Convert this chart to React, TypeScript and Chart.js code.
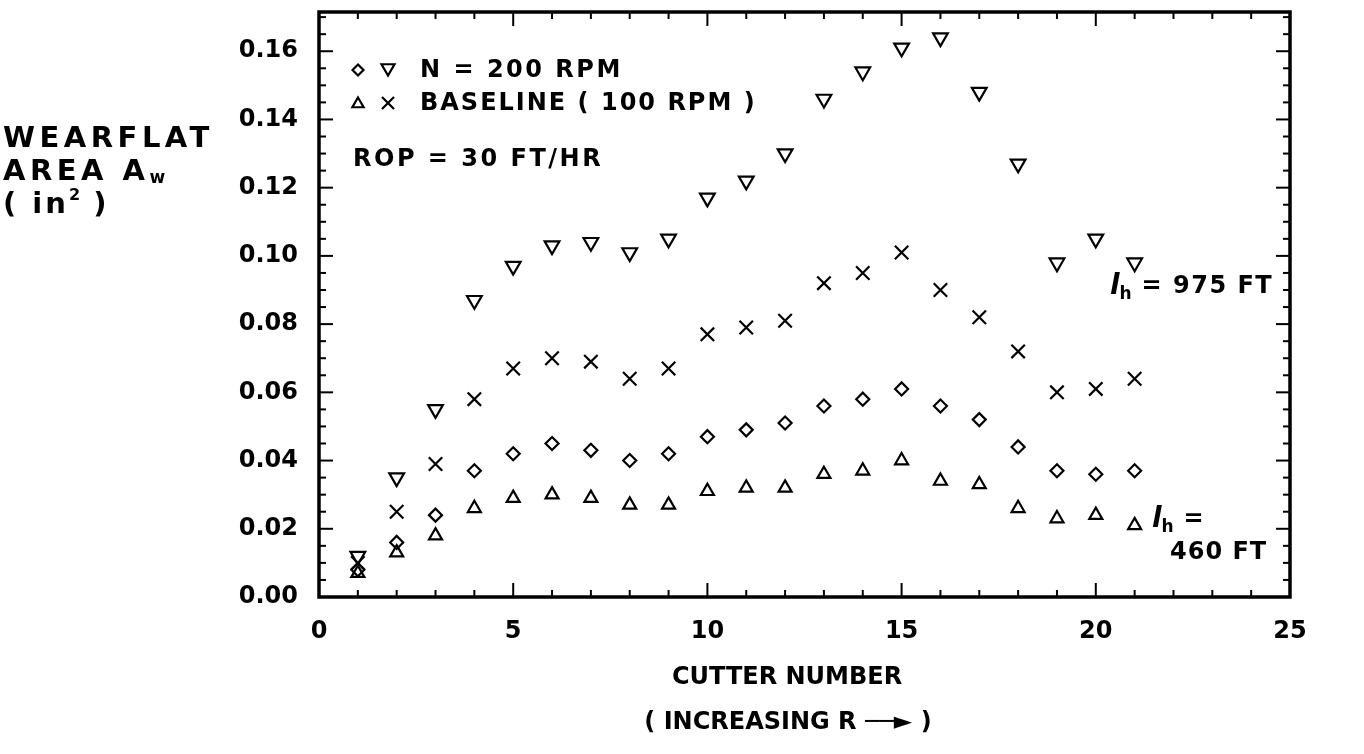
import React, { useEffect, useRef } from 'react';
import { Chart, registerables } from 'chart.js';
import { drawPoint } from 'chart.js/helpers';

Chart.register(...registerables);

// ---- data ----
const cutters = [1, 2, 3, 4, 5, 6, 7, 8, 9, 10, 11, 12, 13, 14, 15, 16, 17, 18, 19, 20, 21];
const diamond200 = [0.008, 0.016, 0.024, 0.037, 0.042, 0.045, 0.043, 0.040, 0.042, 0.047, 0.049, 0.051, 0.056, 0.058, 0.061, 0.056, 0.052, 0.044, 0.037, 0.036, 0.037];
const triDown200 = [0.012, 0.035, 0.055, 0.087, 0.097, 0.103, 0.104, 0.101, 0.105, 0.117, 0.122, 0.130, 0.146, 0.154, 0.161, 0.164, 0.148, 0.127, 0.098, 0.105, 0.098];
const triUp100 = [0.007, 0.013, 0.018, 0.026, 0.029, 0.030, 0.029, 0.027, 0.027, 0.031, 0.032, 0.032, 0.036, 0.037, 0.040, 0.034, 0.033, 0.026, 0.023, 0.024, 0.021];
const cross100 = [0.010, 0.025, 0.039, 0.058, 0.067, 0.070, 0.069, 0.064, 0.067, 0.077, 0.079, 0.081, 0.092, 0.095, 0.101, 0.090, 0.082, 0.072, 0.060, 0.061, 0.064];
const xTickValues = [0, 5, 10, 15, 20, 25];
const yTickValues = [0, 0.02, 0.04, 0.06, 0.08, 0.1, 0.12, 0.14, 0.16];
const X_MIN = 0;
const X_MAX = 25;
const Y_MIN = 0;
const Y_MAX = 0.1715;

const FONT = '"DejaVu Sans", sans-serif';
const BLACK = '#000';

function txt(ctx: CanvasRenderingContext2D, s: string, x: number, y: number, size: number, align: CanvasTextAlign = 'left', ls = 0, italic = false, bold = true): number {
  ctx.font = `${italic ? 'italic ' : ''}${bold ? 'bold ' : ''}${size}px ${FONT}`;
  (ctx as any).letterSpacing = `${ls}px`;
  ctx.textAlign = align;
  ctx.textBaseline = 'middle';
  ctx.fillStyle = BLACK;
  ctx.fillText(s, x, y);
  return ctx.measureText(s).width;
}

function marker(ctx: CanvasRenderingContext2D, style: any, radius: number, rotation: number, x: number, y: number) {
  ctx.save();
  ctx.strokeStyle = BLACK;
  ctx.fillStyle = 'rgba(0,0,0,0)';
  ctx.lineWidth = 2.2;
  drawPoint(ctx, { pointStyle: style, radius, rotation, borderWidth: 2.2 } as any, x, y);
  ctx.restore();
}

const framePlugin = {
  id: 'frameAndText',
  beforeDraw(chart: any) {
    const ctx = chart.ctx;
    (ctx as any).letterSpacing = '0px';
    ctx.save();
    ctx.fillStyle = '#fff';
    ctx.fillRect(0, 0, chart.width, chart.height);
    ctx.restore();
  },
  afterDraw(chart: any) {
    const { ctx, chartArea: a } = chart;
    const xs = chart.scales.x;
    const ys = chart.scales.y;
    ctx.save();
    ctx.strokeStyle = BLACK;
    ctx.lineWidth = 3.5;
    ctx.strokeRect(a.left, a.top, a.right - a.left, a.bottom - a.top);
    ctx.lineWidth = 2;
    const seg = (x1: number, y1: number, x2: number, y2: number) => {
      ctx.beginPath();
      ctx.moveTo(x1, y1);
      ctx.lineTo(x2, y2);
      ctx.stroke();
    };
    for (let v = X_MIN + 1; v < X_MAX; v++) {
      const px = xs.getPixelForValue(v);
      const len = v % 5 === 0 ? 14 : 7;
      seg(px, a.bottom, px, a.bottom - len);
      seg(px, a.top, px, a.top + len);
    }
    for (let i = 1; i * 0.005 < Y_MAX - 0.001; i++) {
      const py = ys.getPixelForValue(i * 0.005);
      const len = i % 4 === 0 ? 14 : 7;
      seg(a.left, py, a.left + len, py);
      seg(a.right, py, a.right - len, py);
    }

    // legend block
    marker(ctx, 'rectRot', 5.5, 0, 358, 70);
    marker(ctx, 'triangle', 7.5, 180, 388, 68);
    marker(ctx, 'triangle', 6.5, 0, 358, 104);
    marker(ctx, 'crossRot', 8.5, 0, 388, 103);
    txt(ctx, 'N = 200 RPM', 420, 71, 24, 'left', 2.5);
    txt(ctx, 'BASELINE ( 100 RPM )', 420, 104, 24, 'left', 2);
    txt(ctx, 'ROP = 30 FT/HR', 353, 160, 24, 'left', 2.5);

    // l_h annotations
    let x0 = 1110;
    x0 += txt(ctx, 'l', x0, 287, 28, 'left', 0, true);
    x0 += txt(ctx, 'h', x0, 295, 17, 'left', 0);
    txt(ctx, ' = 975 FT', x0, 287, 24, 'left', 1.5);
    x0 = 1152;
    x0 += txt(ctx, 'l', x0, 520, 28, 'left', 0, true);
    x0 += txt(ctx, 'h', x0, 528, 17, 'left', 0);
    txt(ctx, ' =', x0, 520, 24, 'left', 1.5);
    txt(ctx, '460 FT', 1170, 553, 24, 'left', 1);

    // y-axis title
    txt(ctx, 'WEARFLAT', 3, 139, 29, 'left', 4.5);
    let x1 = 3 + txt(ctx, 'AREA A', 3, 172, 29, 'left', 4.5);
    txt(ctx, 'w', x1, 179, 17, 'left', 0);
    x1 = 3 + txt(ctx, '( in', 3, 205, 29, 'left', 3);
    x1 += txt(ctx, '2', x1, 196, 16, 'left', 0);
    txt(ctx, ' )', x1, 205, 29, 'left', 3);

    // x-axis title
    txt(ctx, 'CUTTER NUMBER', 787, 678, 24, 'center', 0);
    txt(ctx, '( INCREASING R ──► )', 788, 723, 24, 'center', 0);
    ctx.restore();
  },
};

export default function App() {
  const ref = useRef<HTMLCanvasElement | null>(null);
  useEffect(() => {
    if (!ref.current) return;
    const mk = (data: number[]) => cutters.map((c, i) => ({ x: c, y: data[i] }));
    const base = {
      showLine: false,
      borderColor: BLACK,
      backgroundColor: 'rgba(0,0,0,0)',
      pointBorderWidth: 2.2,
    };
    const chart = new Chart(ref.current, {
      type: 'scatter',
      data: {
        datasets: [
          { ...base, label: 'N = 200 RPM (460 FT)', data: mk(diamond200), pointStyle: 'rectRot', pointRadius: 6.5 },
          { ...base, label: 'N = 200 RPM (975 FT)', data: mk(triDown200), pointStyle: 'triangle', pointRotation: 180, pointRadius: 8.5 },
          { ...base, label: 'BASELINE (460 FT)', data: mk(triUp100), pointStyle: 'triangle', pointRadius: 7.5 },
          { ...base, label: 'BASELINE (975 FT)', data: mk(cross100), pointStyle: 'crossRot', pointRadius: 9.5 },
        ] as any,
      },
      options: {
        animation: false,
        responsive: false,
        devicePixelRatio: 1,
        layout: { padding: { left: 0, right: 74, top: 12, bottom: 0 } },
        plugins: { legend: { display: false }, tooltip: { enabled: false }, title: { display: false } },
        scales: {
          x: {
            type: 'linear',
            min: X_MIN,
            max: X_MAX,
            grid: { display: false, drawTicks: false },
            border: { display: false },
            afterBuildTicks: (s: any) => { s.ticks = xTickValues.map((v) => ({ value: v })); },
            afterFit: (s: any) => { s.height = 157; s.paddingLeft = 0; s.paddingRight = 0; },
            ticks: {
              color: BLACK,
              padding: 20,
              autoSkip: false,
              maxRotation: 0,
              font: { family: FONT, size: 24, weight: 'bold' },
              callback: (v: any) => String(v),
            },
          },
          y: {
            type: 'linear',
            min: Y_MIN,
            max: Y_MAX,
            grid: { display: false, drawTicks: false },
            border: { display: false },
            afterBuildTicks: (s: any) => { s.ticks = yTickValues.map((v) => ({ value: v })); },
            afterFit: (s: any) => { s.width = 319; s.paddingTop = 0; s.paddingBottom = 0; },
            ticks: {
              color: BLACK,
              padding: 21,
              autoSkip: false,
              font: { family: FONT, size: 24, weight: 'bold' },
              callback: (v: any) => Number(v).toFixed(2),
            },
          },
        },
      },
      plugins: [framePlugin as any],
    });
    return () => chart.destroy();
  }, []);
  return (
    <div style={{ position: 'absolute', left: 0, top: 0, width: 1364, height: 754 }}>
      <canvas ref={ref} width={1364} height={754} style={{ display: 'block' }} />
    </div>
  );
}
